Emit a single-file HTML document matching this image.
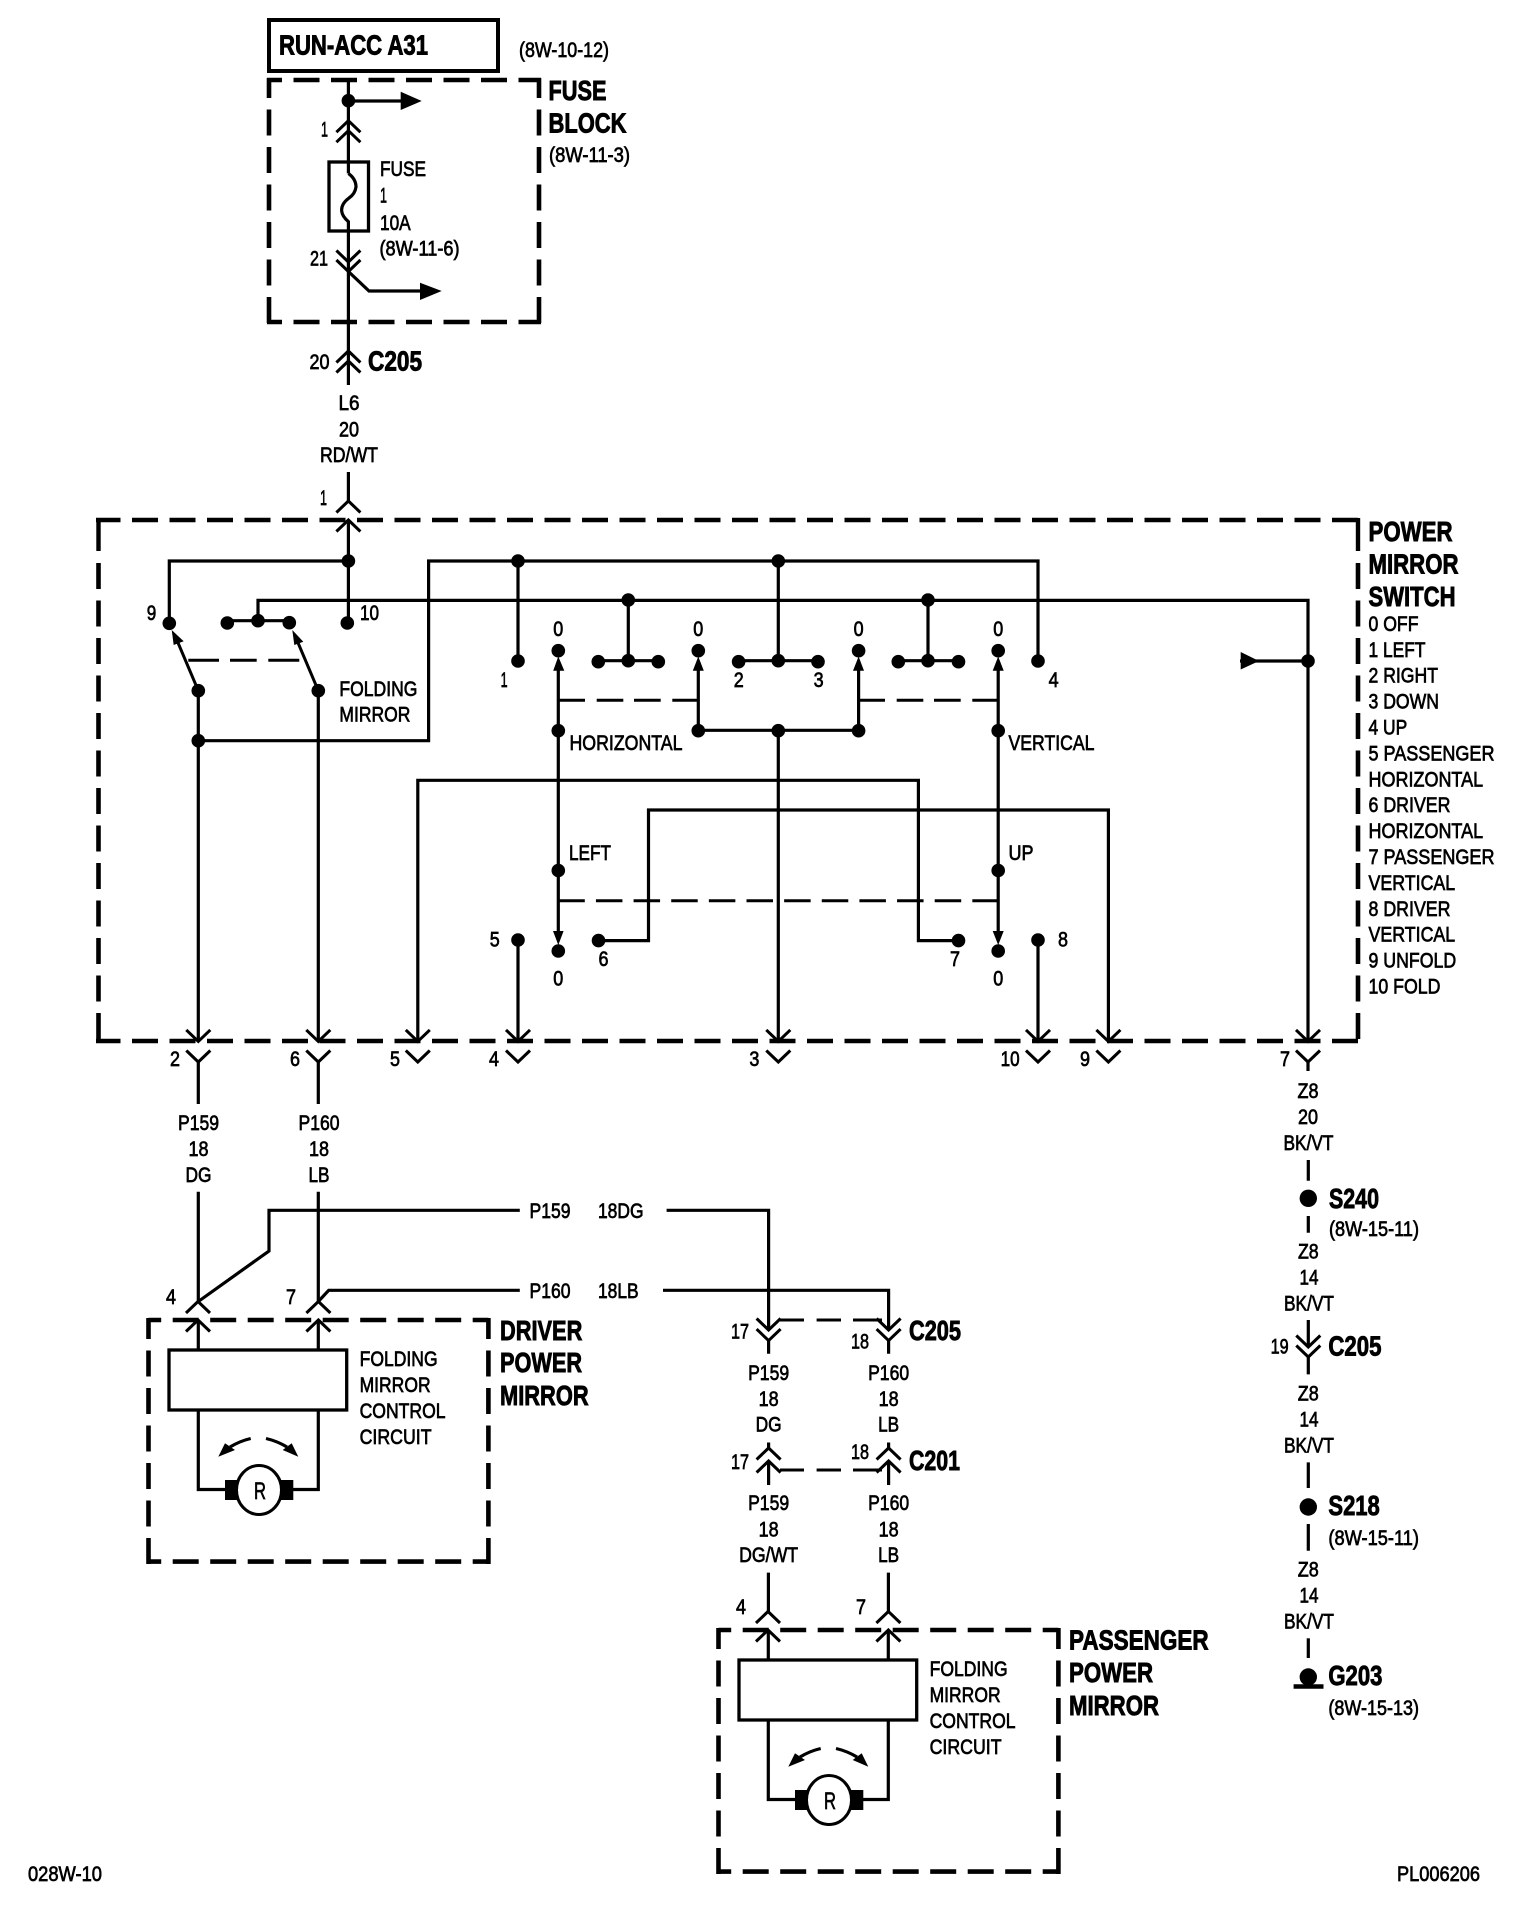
<!DOCTYPE html>
<html><head><meta charset="utf-8"><style>
html,body{margin:0;padding:0;background:#fff}
svg{display:block}
.w{fill:none;stroke:#000;stroke-width:3.2}
.c{fill:none;stroke:#000;stroke-width:3}
.d{fill:none;stroke:#000;stroke-width:4.6;stroke-dasharray:26 11.5}
.t{fill:none;stroke:#000;stroke-width:3}
.t2{fill:none;stroke:#000;stroke-width:3;stroke-dasharray:26.5 11.14}
.th{fill:none;stroke:#000;stroke-width:4.4}
text{font-family:"Liberation Sans",sans-serif;fill:#000}
.r{font-size:21px;stroke:#000;stroke-width:.7}
.b{font-size:28px;font-weight:bold;stroke:#000;stroke-width:.9}
.m{text-anchor:middle}
</style></head><body>
<svg xmlns="http://www.w3.org/2000/svg" width="1536" height="1924" viewBox="0 0 1536 1924">
<defs>
<circle id="n" r="6.8" fill="#000"/>
<path id="v" class="c" d="M-12 -11.5L0 0L12 -11.5"/>
<path id="a" class="c" d="M-12 11.5L0 0L12 11.5"/>
<g id="unit">
<path class="d" style="stroke-dashoffset:13.3" d="M148.5 1320H488.4"/>
<path class="d" style="stroke-dashoffset:13.3" d="M148.5 1561.6H488.4"/>
<path class="d" style="stroke-dashoffset:5" d="M148.5 1318V1564"/>
<path class="d" style="stroke-dashoffset:5" d="M488.4 1318V1564"/>
<use href="#a" x="198" y="1301.5"/><use href="#a" x="318.4" y="1301.5"/>
<use href="#a" x="198" y="1320"/><use href="#a" x="318.4" y="1320"/>
<path class="w" d="M198.3 1320V1350M318.3 1320V1350"/>
<rect x="169" y="1350" width="177.7" height="60" fill="#fff" stroke="#000" stroke-width="3.3"/>
<path class="w" d="M198.3 1410V1489.5H226M318.3 1410V1489.5H292"/>
<rect x="225" y="1480" width="12.3" height="20" fill="#000"/><rect x="280.7" y="1480" width="12.6" height="20" fill="#000"/>
<ellipse cx="259" cy="1490" rx="22.5" ry="24.5" fill="#fff" stroke="#000" stroke-width="3"/>
<text class="r" x="254" y="1499" style="font-size:24px" textLength="12" lengthAdjust="spacingAndGlyphs">R</text>
<path class="w" d="M250.7 1438.5Q240 1441 230 1447M266 1438.5Q277 1441 287 1447"/>
<polygon points="218.3,1456.7 225,1443.3 235,1450"/><polygon points="298.3,1456.7 291.7,1443.3 282.7,1450"/>
<text class="r" x="166" y="1304" textLength="10" lengthAdjust="spacingAndGlyphs">4</text>
<text class="r" x="286" y="1304" textLength="10" lengthAdjust="spacingAndGlyphs">7</text>
<text class="r" x="359.6" y="1366" textLength="78" lengthAdjust="spacingAndGlyphs">FOLDING</text>
<text class="r" x="359.6" y="1392" textLength="71" lengthAdjust="spacingAndGlyphs">MIRROR</text>
<text class="r" x="359.6" y="1418" textLength="86" lengthAdjust="spacingAndGlyphs">CONTROL</text>
<text class="r" x="359.6" y="1444" textLength="72" lengthAdjust="spacingAndGlyphs">CIRCUIT</text>
</g>
</defs>
<rect width="1536" height="1924" fill="#fff"/>

<!-- top -->
<rect x="269" y="20" width="229" height="51" fill="none" stroke="#000" stroke-width="4"/>
<text class="b" x="279" y="54.7" textLength="149" lengthAdjust="spacingAndGlyphs">RUN-ACC A31</text>
<text class="r" x="519" y="57" textLength="90" lengthAdjust="spacingAndGlyphs">(8W-10-12)</text>

<!-- fuse block -->
<path class="d" style="stroke-dashoffset:11" d="M267 80H541"/>
<path class="d" style="stroke-dashoffset:11" d="M267 322H541"/>
<path class="d" style="stroke-dashoffset:6" d="M269 78V324"/>
<path class="d" style="stroke-dashoffset:6" d="M539 78V324"/>
<text class="b" x="548.5" y="100" textLength="58" lengthAdjust="spacingAndGlyphs">FUSE</text>
<text class="b" x="548.5" y="132.5" textLength="78" lengthAdjust="spacingAndGlyphs">BLOCK</text>
<text class="r" x="549" y="162" textLength="81" lengthAdjust="spacingAndGlyphs">(8W-11-3)</text>
<path class="w" d="M348.4 80V173.4M348.4 101H402"/>
<use href="#n" x="348.4" y="100.7"/>
<polygon points="400.7,91.7 421.7,101 400.7,110"/>
<use href="#a" x="348.4" y="120.7"/><use href="#a" x="348.4" y="130.7"/>
<text class="r" x="321" y="136.7" textLength="7" lengthAdjust="spacingAndGlyphs">1</text>
<rect x="329" y="162" width="39.5" height="69" fill="none" stroke="#000" stroke-width="3.3"/>
<path class="w" d="M348.4 173.4Q356 179 356 187Q355 194 349 198Q341 204 341.7 211Q342 216 348.4 221.7V385"/>
<use href="#v" x="348.4" y="262"/><use href="#v" x="348.4" y="271.5"/>
<text class="r" x="310" y="265.7" textLength="18" lengthAdjust="spacingAndGlyphs">21</text>
<path class="w" d="M348.4 271.5L369 291H422"/>
<polygon points="420,282.7 441.7,291 420,300"/>
<text class="r" x="380" y="176" textLength="46" lengthAdjust="spacingAndGlyphs">FUSE</text>
<text class="r" x="380" y="202.7" textLength="7" lengthAdjust="spacingAndGlyphs">1</text>
<text class="r" x="380" y="230" textLength="30.7" lengthAdjust="spacingAndGlyphs">10A</text>
<text class="r" x="379.5" y="255.5" textLength="80" lengthAdjust="spacingAndGlyphs">(8W-11-6)</text>
<use href="#a" x="348.4" y="351"/><use href="#a" x="348.4" y="361"/>
<text class="r" x="309.5" y="369" textLength="20" lengthAdjust="spacingAndGlyphs">20</text>
<text class="b" x="368" y="370.5" textLength="54" lengthAdjust="spacingAndGlyphs">C205</text>
<text class="r m" x="349" y="410" textLength="21" lengthAdjust="spacingAndGlyphs">L6</text>
<text class="r m" x="349" y="436.5" textLength="20" lengthAdjust="spacingAndGlyphs">20</text>
<text class="r m" x="349" y="462" textLength="58" lengthAdjust="spacingAndGlyphs">RD/WT</text>
<path class="w" d="M348.4 472V501"/>
<use href="#a" x="348.4" y="501"/><use href="#a" x="348.4" y="520"/>
<text class="r" x="320" y="505" textLength="7" lengthAdjust="spacingAndGlyphs">1</text>

<!-- switch box -->
<path class="d" style="stroke-dashoffset:1.5" d="M96 520H1360"/>
<path class="d" style="stroke-dashoffset:1.5" d="M96 1041H1360"/>
<path class="th" d="M98.5 518V551M1358 518V551"/>
<path class="d" d="M98.5 563V1043M1358 563V1043"/>
<text class="b" x="1368.5" y="540.8" textLength="84" lengthAdjust="spacingAndGlyphs">POWER</text>
<text class="b" x="1368.5" y="573.4" textLength="90" lengthAdjust="spacingAndGlyphs">MIRROR</text>
<text class="b" x="1368.5" y="606" textLength="87" lengthAdjust="spacingAndGlyphs">SWITCH</text>
<text class="r" x="1368.5" y="631" textLength="50" lengthAdjust="spacingAndGlyphs">0 OFF</text>
<text class="r" x="1368.5" y="656.8" textLength="57" lengthAdjust="spacingAndGlyphs">1 LEFT</text>
<text class="r" x="1368.5" y="682.7" textLength="69.5" lengthAdjust="spacingAndGlyphs">2 RIGHT</text>
<text class="r" x="1368.5" y="708.6" textLength="70.5" lengthAdjust="spacingAndGlyphs">3 DOWN</text>
<text class="r" x="1368.5" y="734.5" textLength="38.7" lengthAdjust="spacingAndGlyphs">4 UP</text>
<text class="r" x="1368.5" y="760.4" textLength="126" lengthAdjust="spacingAndGlyphs">5 PASSENGER</text>
<text class="r" x="1368.5" y="786.3" textLength="114.6" lengthAdjust="spacingAndGlyphs">HORIZONTAL</text>
<text class="r" x="1368.5" y="812.2" textLength="82" lengthAdjust="spacingAndGlyphs">6 DRIVER</text>
<text class="r" x="1368.5" y="838.1" textLength="114.6" lengthAdjust="spacingAndGlyphs">HORIZONTAL</text>
<text class="r" x="1368.5" y="864" textLength="126" lengthAdjust="spacingAndGlyphs">7 PASSENGER</text>
<text class="r" x="1368.5" y="889.9" textLength="86.7" lengthAdjust="spacingAndGlyphs">VERTICAL</text>
<text class="r" x="1368.5" y="915.8" textLength="82" lengthAdjust="spacingAndGlyphs">8 DRIVER</text>
<text class="r" x="1368.5" y="941.7" textLength="86.7" lengthAdjust="spacingAndGlyphs">VERTICAL</text>
<text class="r" x="1368.5" y="967.6" textLength="87.7" lengthAdjust="spacingAndGlyphs">9 UNFOLD</text>
<text class="r" x="1368.5" y="993.5" textLength="72" lengthAdjust="spacingAndGlyphs">10 FOLD</text>

<!-- switch wiring -->
<path class="w" d="M348.4 520V623M348.4 561H169.3V623"/>
<path class="w" d="M227.3 620.7H289.3M258 620.7V600.4H1308V1041M1240 661H1308"/>
<polygon points="1240.7,652 1259,661 1240.7,669.5"/>
<path class="w" d="M198.3 690.7V1041M198.3 740.7H428.6V561H1038V661M318.3 690.7V1041"/>
<path class="w" d="M518 561V661M778.3 561V661M738.6 660.7H818M598.3 660.7H658.3M628.3 600V660.7M898.3 660.7H958.5M928 600V660.7"/>
<path class="w" d="M558.3 669V932M698.3 669V730.3M858.6 669V730.3M698.3 730.3H858.6M778.3 730.3V1041M998.2 669V932"/>
<path class="w" d="M417.8 1041V780.3H918.4V940.6H958.5M598.5 940.6H648.5V810H1108.4V1041M518 940V1041M1038 940V1041"/>
<path class="w" style="stroke-width:3" d="M198.3 690.7L176 638M318.3 690.7L296 638"/>
<polygon points="171.7,630 183.7,641.3 173.7,645"/><polygon points="292.3,630 303.3,641.7 294.3,645"/>
<polygon points="558.3,656.5 553.2,670.7 564.3,670.7"/><polygon points="698.3,656.5 692.8,670.7 703.8,670.7"/><polygon points="858.6,656.5 853,670.7 864,670.7"/><polygon points="998.2,656.5 992.7,670.7 1003.7,670.7"/>
<polygon points="558.3,945 553,931 563.6,931"/><polygon points="998.2,945 992.7,931 1003.7,931"/>
<path class="t" d="M188.3 660.3H219M230 660.3H256.7M268.3 660.3H299.3"/>
<path class="t" d="M558.3 700.3H585M596.7 700.3H623.3M634 700.3H660.7M672.3 700.3H698.3M858.6 700.3H885M896.7 700.3H923.3M934 700.3H960.7M972.3 700.3H998.2"/>
<path class="t2" d="M558.3 900.7H998.2"/>
<g>
<use href="#n" x="348.4" y="561"/><use href="#n" x="169.3" y="623.3"/><use href="#n" x="347.3" y="623"/>
<use href="#n" x="227.3" y="623"/><use href="#n" x="258" y="620.7"/><use href="#n" x="289.3" y="622.7"/>
<use href="#n" x="198.3" y="690.7"/><use href="#n" x="318.3" y="690.7"/><use href="#n" x="198.3" y="740.7"/>
<use href="#n" x="518" y="561"/><use href="#n" x="778.3" y="561"/><use href="#n" x="518" y="661"/><use href="#n" x="1038" y="661"/>
<use href="#n" x="628.3" y="600"/><use href="#n" x="928" y="600"/>
<use href="#n" x="598.3" y="661.7"/><use href="#n" x="628.3" y="660.7"/><use href="#n" x="658.3" y="661.7"/>
<use href="#n" x="738.6" y="661.7"/><use href="#n" x="778.3" y="660.7"/><use href="#n" x="818" y="661.7"/>
<use href="#n" x="898.3" y="661.7"/><use href="#n" x="928" y="660.7"/><use href="#n" x="958.5" y="661.7"/>
<use href="#n" x="558.3" y="650.7"/><use href="#n" x="698.3" y="650.7"/><use href="#n" x="858.6" y="650.7"/><use href="#n" x="998.2" y="650.7"/>
<use href="#n" x="558.3" y="730.7"/><use href="#n" x="698.3" y="730.7"/><use href="#n" x="778.3" y="730.7"/><use href="#n" x="858.6" y="730.7"/><use href="#n" x="998.2" y="730.7"/>
<use href="#n" x="558.3" y="870.5"/><use href="#n" x="998.2" y="870.5"/>
<use href="#n" x="558.3" y="951"/><use href="#n" x="998.2" y="951"/>
<use href="#n" x="518" y="940"/><use href="#n" x="598.5" y="940.6"/><use href="#n" x="958.5" y="940.6"/><use href="#n" x="1038" y="940"/>
<use href="#n" x="1308" y="661"/>
</g>
<text class="r" x="146.7" y="620" textLength="9.5" lengthAdjust="spacingAndGlyphs">9</text>
<text class="r" x="360" y="620" textLength="19" lengthAdjust="spacingAndGlyphs">10</text>
<text class="r" x="339.4" y="696" textLength="78" lengthAdjust="spacingAndGlyphs">FOLDING</text>
<text class="r" x="339.4" y="721.5" textLength="71" lengthAdjust="spacingAndGlyphs">MIRROR</text>
<text class="r" x="500.6" y="687" textLength="7" lengthAdjust="spacingAndGlyphs">1</text>
<text class="r" x="733.7" y="687" textLength="10" lengthAdjust="spacingAndGlyphs">2</text>
<text class="r" x="813.6" y="687" textLength="10" lengthAdjust="spacingAndGlyphs">3</text>
<text class="r" x="1048.6" y="687" textLength="10" lengthAdjust="spacingAndGlyphs">4</text>
<text class="r m" x="558.3" y="636" textLength="10" lengthAdjust="spacingAndGlyphs">0</text>
<text class="r m" x="698.3" y="636" textLength="10" lengthAdjust="spacingAndGlyphs">0</text>
<text class="r m" x="858.6" y="636" textLength="10" lengthAdjust="spacingAndGlyphs">0</text>
<text class="r m" x="998.2" y="636" textLength="10" lengthAdjust="spacingAndGlyphs">0</text>
<text class="r m" x="558.3" y="985.5" textLength="10" lengthAdjust="spacingAndGlyphs">0</text>
<text class="r m" x="998.2" y="985.5" textLength="10" lengthAdjust="spacingAndGlyphs">0</text>
<text class="r" x="569.5" y="750" textLength="113" lengthAdjust="spacingAndGlyphs">HORIZONTAL</text>
<text class="r" x="1008.5" y="750" textLength="86" lengthAdjust="spacingAndGlyphs">VERTICAL</text>
<text class="r" x="569" y="860" textLength="42" lengthAdjust="spacingAndGlyphs">LEFT</text>
<text class="r" x="1008.5" y="860" textLength="25" lengthAdjust="spacingAndGlyphs">UP</text>
<text class="r" x="489.8" y="946.7" textLength="10" lengthAdjust="spacingAndGlyphs">5</text>
<text class="r" x="1058" y="946.7" textLength="10" lengthAdjust="spacingAndGlyphs">8</text>
<text class="r" x="598.5" y="966" textLength="10" lengthAdjust="spacingAndGlyphs">6</text>
<text class="r" x="950" y="966" textLength="10" lengthAdjust="spacingAndGlyphs">7</text>

<!-- bottom connectors -->
<use href="#v" x="198.3" y="1041.4"/><use href="#v" x="198.3" y="1062"/>
<use href="#v" x="318.3" y="1041.4"/><use href="#v" x="318.3" y="1062"/>
<use href="#v" x="417.8" y="1041.4"/><use href="#v" x="417.8" y="1062"/>
<use href="#v" x="518" y="1041.4"/><use href="#v" x="518" y="1062"/>
<use href="#v" x="778.3" y="1041.4"/><use href="#v" x="778.3" y="1062"/>
<use href="#v" x="1038" y="1041.4"/><use href="#v" x="1038" y="1062"/>
<use href="#v" x="1108.4" y="1041.4"/><use href="#v" x="1108.4" y="1062"/>
<use href="#v" x="1308" y="1041.4"/><use href="#v" x="1308" y="1062"/>
<path class="w" d="M198.3 1062V1104M318.3 1062V1104M1308 1062V1071"/>
<text class="r" x="170" y="1066" textLength="10" lengthAdjust="spacingAndGlyphs">2</text>
<text class="r" x="290" y="1066" textLength="10" lengthAdjust="spacingAndGlyphs">6</text>
<text class="r" x="390" y="1066" textLength="10" lengthAdjust="spacingAndGlyphs">5</text>
<text class="r" x="489" y="1066" textLength="10" lengthAdjust="spacingAndGlyphs">4</text>
<text class="r" x="749.4" y="1066" textLength="10" lengthAdjust="spacingAndGlyphs">3</text>
<text class="r" x="1000.6" y="1066" textLength="19" lengthAdjust="spacingAndGlyphs">10</text>
<text class="r" x="1080" y="1066" textLength="10" lengthAdjust="spacingAndGlyphs">9</text>
<text class="r" x="1280" y="1066" textLength="10" lengthAdjust="spacingAndGlyphs">7</text>

<text class="r m" x="198.5" y="1130" textLength="41" lengthAdjust="spacingAndGlyphs">P159</text>
<text class="r m" x="198.5" y="1156" textLength="20" lengthAdjust="spacingAndGlyphs">18</text>
<text class="r m" x="198.5" y="1182" textLength="26" lengthAdjust="spacingAndGlyphs">DG</text>
<text class="r m" x="319" y="1130" textLength="41" lengthAdjust="spacingAndGlyphs">P160</text>
<text class="r m" x="319" y="1156" textLength="20" lengthAdjust="spacingAndGlyphs">18</text>
<text class="r m" x="319" y="1182" textLength="21" lengthAdjust="spacingAndGlyphs">LB</text>

<!-- crossing harness -->
<path class="w" d="M198.3 1191.7V1301.5M318.3 1191.7V1301.5"/>
<path class="w" d="M519.8 1210.3H269V1251L198.3 1301.5"/>
<path class="w" d="M666.6 1210.3H768.6V1330"/>
<path class="w" d="M519.8 1290.3H328.7L318.3 1301.5"/>
<path class="w" d="M663 1290.3H888.6V1330"/>
<text class="r" x="529.5" y="1218" textLength="41" lengthAdjust="spacingAndGlyphs">P159</text>
<text class="r" x="598" y="1218" textLength="45.5" lengthAdjust="spacingAndGlyphs">18DG</text>
<text class="r" x="529.5" y="1298" textLength="41" lengthAdjust="spacingAndGlyphs">P160</text>
<text class="r" x="598" y="1298" textLength="40.6" lengthAdjust="spacingAndGlyphs">18LB</text>

<use href="#unit"/>
<g transform="translate(570,310)"><use href="#unit"/></g>
<text class="b" x="500" y="1340" textLength="82.3" lengthAdjust="spacingAndGlyphs">DRIVER</text>
<text class="b" x="500" y="1372" textLength="82" lengthAdjust="spacingAndGlyphs">POWER</text>
<text class="b" x="500" y="1405" textLength="88.6" lengthAdjust="spacingAndGlyphs">MIRROR</text>
<text class="b" x="1069" y="1649.4" textLength="139.6" lengthAdjust="spacingAndGlyphs">PASSENGER</text>
<text class="b" x="1069" y="1682" textLength="84" lengthAdjust="spacingAndGlyphs">POWER</text>
<text class="b" x="1069" y="1715" textLength="90" lengthAdjust="spacingAndGlyphs">MIRROR</text>

<!-- C205 / C201 -->
<use href="#v" x="768.6" y="1330"/><use href="#v" x="768.6" y="1340.6"/>
<use href="#v" x="888.6" y="1330"/><use href="#v" x="888.6" y="1340.6"/>
<path class="w" d="M768.6 1340.6V1353.7M888.6 1340.6V1353.7"/>
<path class="t" d="M780 1320H804M816.6 1320H841M853 1320H882"/>
<text class="r" x="731" y="1338.6" textLength="18" lengthAdjust="spacingAndGlyphs">17</text>
<text class="r" x="851" y="1348.6" textLength="18" lengthAdjust="spacingAndGlyphs">18</text>
<text class="b" x="909" y="1339.8" textLength="52" lengthAdjust="spacingAndGlyphs">C205</text>
<text class="r m" x="768.6" y="1380" textLength="41" lengthAdjust="spacingAndGlyphs">P159</text>
<text class="r m" x="768.6" y="1406" textLength="20" lengthAdjust="spacingAndGlyphs">18</text>
<text class="r m" x="768.6" y="1431.5" textLength="26" lengthAdjust="spacingAndGlyphs">DG</text>
<text class="r m" x="888.6" y="1380" textLength="41" lengthAdjust="spacingAndGlyphs">P160</text>
<text class="r m" x="888.6" y="1406" textLength="20" lengthAdjust="spacingAndGlyphs">18</text>
<text class="r m" x="888.6" y="1431.5" textLength="21" lengthAdjust="spacingAndGlyphs">LB</text>
<path class="w" d="M768.6 1442.5V1448M888.6 1442.5V1448M768.6 1461V1485M888.6 1461V1485"/>
<use href="#a" x="768.6" y="1448"/><use href="#a" x="768.6" y="1461"/>
<use href="#a" x="888.6" y="1448"/><use href="#a" x="888.6" y="1461"/>
<path class="t" d="M780 1470H804M816.6 1470H841M853 1470H882"/>
<text class="r" x="731" y="1469" textLength="18" lengthAdjust="spacingAndGlyphs">17</text>
<text class="r" x="851" y="1459" textLength="18" lengthAdjust="spacingAndGlyphs">18</text>
<text class="b" x="909" y="1470" textLength="51" lengthAdjust="spacingAndGlyphs">C201</text>
<text class="r m" x="768.6" y="1510" textLength="41" lengthAdjust="spacingAndGlyphs">P159</text>
<text class="r m" x="768.6" y="1536.6" textLength="20" lengthAdjust="spacingAndGlyphs">18</text>
<text class="r m" x="768.6" y="1562" textLength="59" lengthAdjust="spacingAndGlyphs">DG/WT</text>
<text class="r m" x="888.6" y="1510" textLength="41" lengthAdjust="spacingAndGlyphs">P160</text>
<text class="r m" x="888.6" y="1536.6" textLength="20" lengthAdjust="spacingAndGlyphs">18</text>
<text class="r m" x="888.6" y="1562" textLength="21" lengthAdjust="spacingAndGlyphs">LB</text>
<path class="w" d="M768.4 1572.6V1612M888.4 1572.6V1612"/>

<!-- right column -->
<text class="r m" x="1308" y="1098" textLength="21" lengthAdjust="spacingAndGlyphs">Z8</text>
<text class="r m" x="1308" y="1124" textLength="20" lengthAdjust="spacingAndGlyphs">20</text>
<text class="r m" x="1308.5" y="1150" textLength="50" lengthAdjust="spacingAndGlyphs">BK/VT</text>
<path class="w" d="M1308.3 1160V1180.7M1308.3 1216V1232.7"/>
<circle cx="1308.3" cy="1198.3" r="8.7"/>
<text class="b" x="1329" y="1208" textLength="50" lengthAdjust="spacingAndGlyphs">S240</text>
<text class="r" x="1329" y="1236" textLength="90" lengthAdjust="spacingAndGlyphs">(8W-15-11)</text>
<text class="r m" x="1308.3" y="1258.3" textLength="20.7" lengthAdjust="spacingAndGlyphs">Z8</text>
<text class="r m" x="1309" y="1284.3" textLength="19" lengthAdjust="spacingAndGlyphs">14</text>
<text class="r m" x="1309" y="1310.5" textLength="50" lengthAdjust="spacingAndGlyphs">BK/VT</text>
<path class="w" d="M1308.3 1320V1347M1308.3 1357V1374.4"/>
<use href="#v" x="1308.3" y="1347"/><use href="#v" x="1308.3" y="1357"/>
<text class="r" x="1270.6" y="1353.7" textLength="18" lengthAdjust="spacingAndGlyphs">19</text>
<text class="b" x="1328.4" y="1355.7" textLength="53" lengthAdjust="spacingAndGlyphs">C205</text>
<text class="r m" x="1308.3" y="1400.7" textLength="21" lengthAdjust="spacingAndGlyphs">Z8</text>
<text class="r m" x="1309" y="1426.6" textLength="19" lengthAdjust="spacingAndGlyphs">14</text>
<text class="r m" x="1309" y="1452.4" textLength="50" lengthAdjust="spacingAndGlyphs">BK/VT</text>
<path class="w" d="M1308.3 1462.4V1488M1308.3 1524V1550.7"/>
<circle cx="1308.3" cy="1507" r="8.7"/>
<text class="b" x="1328.4" y="1515" textLength="51.4" lengthAdjust="spacingAndGlyphs">S218</text>
<text class="r" x="1328.4" y="1544.8" textLength="90.6" lengthAdjust="spacingAndGlyphs">(8W-15-11)</text>
<text class="r m" x="1308.3" y="1576.6" textLength="21" lengthAdjust="spacingAndGlyphs">Z8</text>
<text class="r m" x="1309" y="1602.5" textLength="19" lengthAdjust="spacingAndGlyphs">14</text>
<text class="r m" x="1309" y="1628.4" textLength="50" lengthAdjust="spacingAndGlyphs">BK/VT</text>
<path class="w" d="M1308.3 1638.3V1658"/>
<circle cx="1308.3" cy="1677" r="8.7"/>
<path class="th" d="M1293.6 1686.5H1323.5"/>
<text class="b" x="1328.4" y="1685" textLength="54" lengthAdjust="spacingAndGlyphs">G203</text>
<text class="r" x="1328.4" y="1715" textLength="90.6" lengthAdjust="spacingAndGlyphs">(8W-15-13)</text>

<text class="r" x="28" y="1881" textLength="74" lengthAdjust="spacingAndGlyphs">028W-10</text>
<text class="r" x="1397" y="1881" textLength="83" lengthAdjust="spacingAndGlyphs">PL006206</text>
</svg>
</body></html>
